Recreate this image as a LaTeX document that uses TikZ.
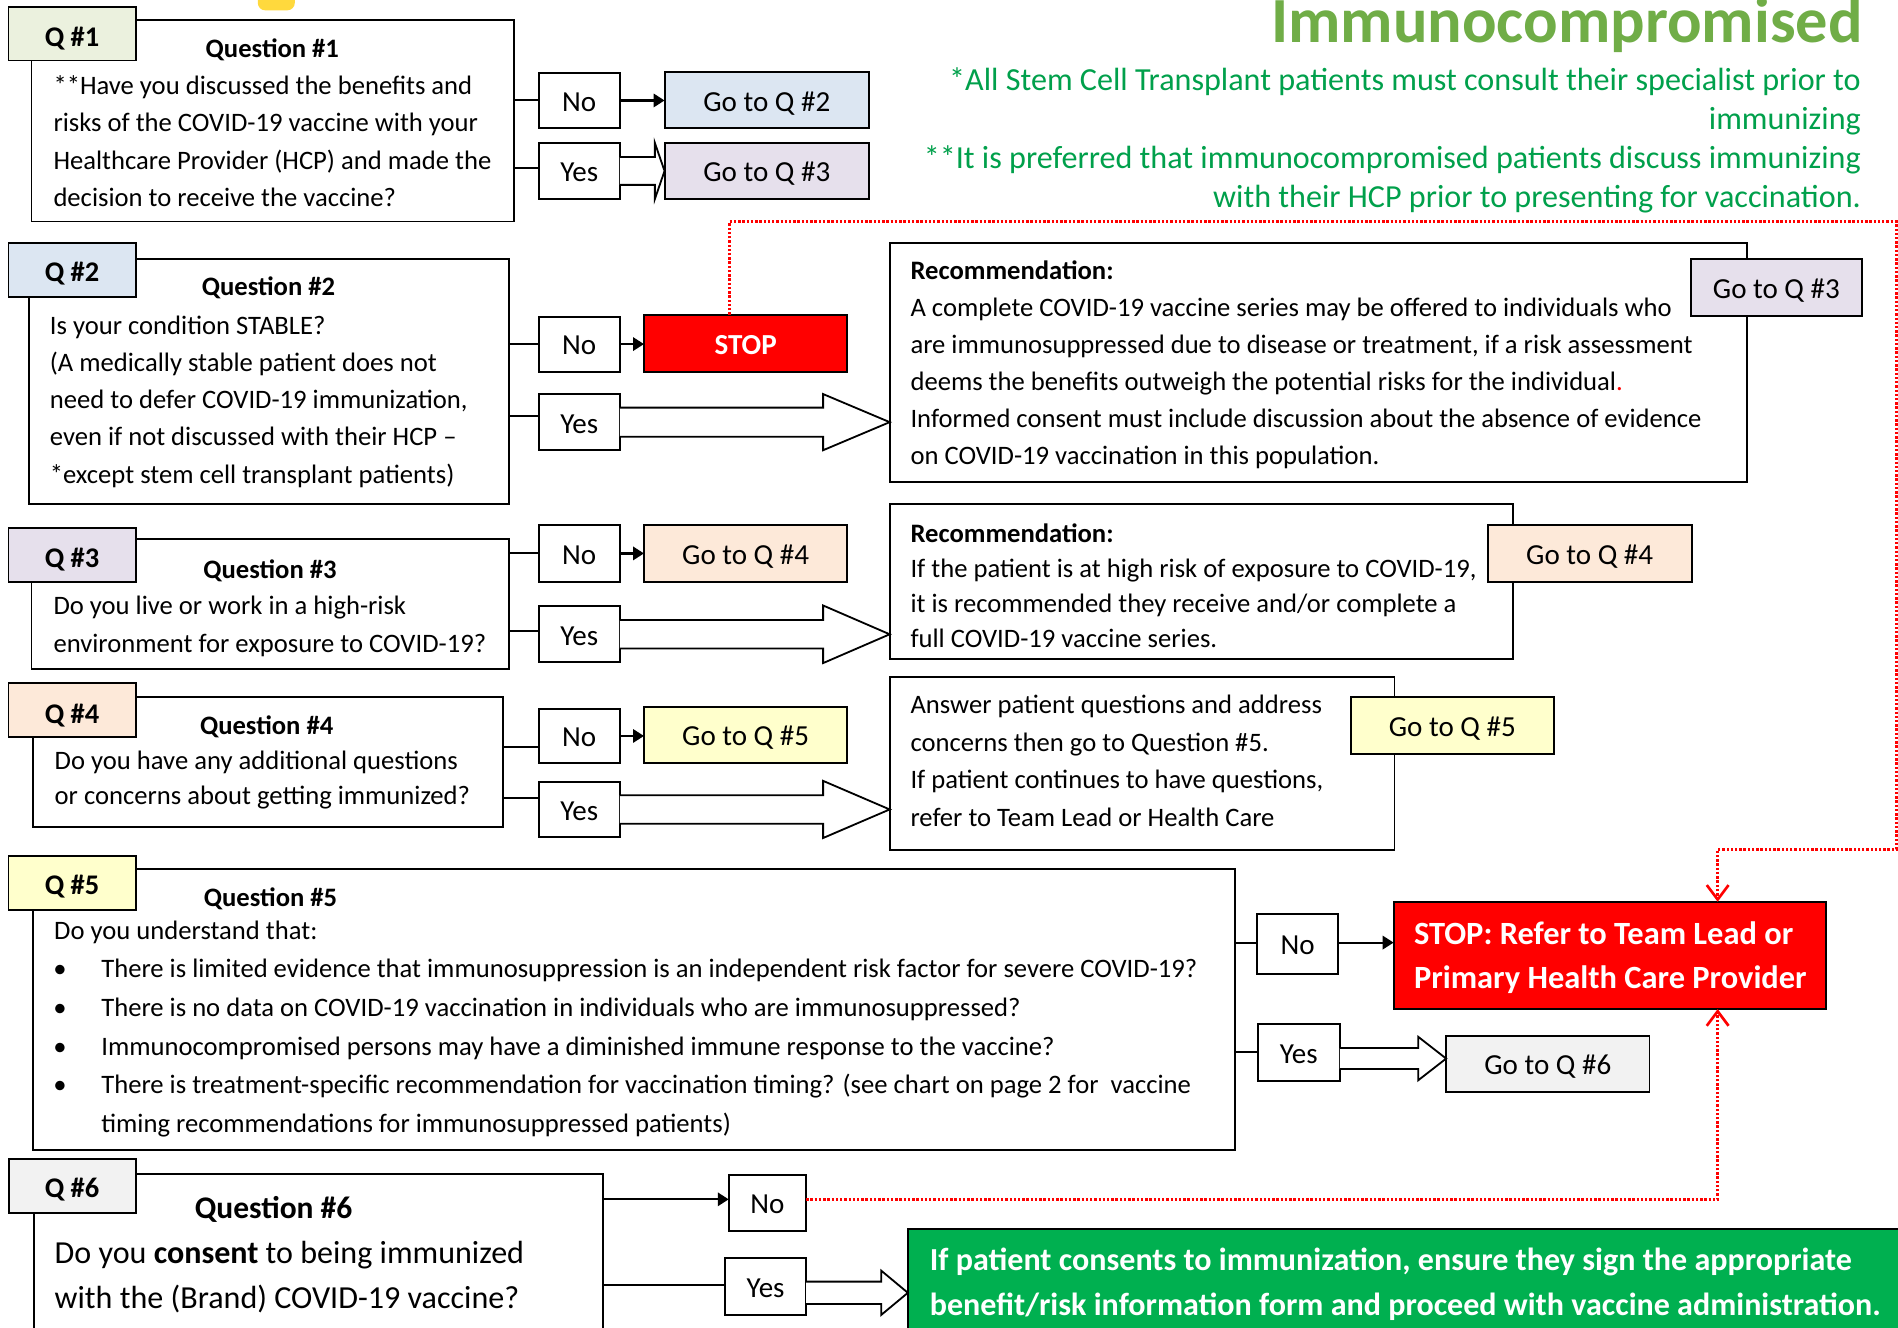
\documentclass[tikz,border=0pt]{standalone}
\usepackage{fontspec}
\setmainfont{Carlito}
\usetikzlibrary{arrows.meta,calc}
\definecolor{qone}{HTML}{EBF1DE}
\definecolor{qtwo}{HTML}{DCE6F2}
\definecolor{qthree}{HTML}{E6E0EC}
\definecolor{qfour}{HTML}{FDE9D9}
\definecolor{qfive}{HTML}{FFFFCC}
\definecolor{qsix}{HTML}{F2F2F2}
\definecolor{stopred}{HTML}{FF0000}
\definecolor{okgreen}{HTML}{00B050}
\definecolor{titlegreen}{HTML}{70AD47}
\definecolor{notegreen}{HTML}{00A04B}
\definecolor{tagyellow}{HTML}{FFD93D}
\newcommand{\BlockArrow}[5]{%
  \filldraw[blockarr] let \p1=(#1), \p2=(#2) in
  (\x1,{\y1+#3}) -- ({\x2-#5},{\y1+#3}) -- ({\x2-#5},{\y1+#4}) -- (\x2,\y1)
  -- ({\x2-#5},{\y1-#4}) -- ({\x2-#5},{\y1-#3}) -- (\x1,{\y1-#3});}
\begin{document}
\begin{tikzpicture}[x=1pt,y=-1pt,
  box/.style={draw=black,line width=1.6pt,fill=white,rectangle,inner sep=0pt,outer sep=0pt,anchor=north west},
  tagbox/.style={box,minimum width=105pt,minimum height=44.5pt},
  ynbox/.style={box,minimum width=67pt,minimum height=46pt,font=\fontsize{24}{28}\selectfont,text height=18pt,text depth=0pt},
  gobox/.style={box,minimum width=168pt,minimum height=47pt,font=\fontsize{24}{28}\selectfont,text height=18pt,text depth=0pt},
  tagtxt/.style={inner sep=0pt,anchor=base,font=\bfseries\fontsize{23.5}{28}\selectfont},
  qtitle/.style={inner sep=0pt,anchor=base,font=\bfseries\fontsize{22}{28}\selectfont},
  body/.style={inner sep=0pt,anchor=base west,align=left,font=\fontsize{22}{30.8}\selectfont},
  conn/.style={draw=black,line width=1.6pt},
  arr/.style={draw=black,line width=1.8pt,-{Triangle[length=9pt,width=11pt]}},
  blockarr/.style={draw=black,line width=1.5pt,fill=white,line join=miter},
  reddot/.style={draw=red,line width=2.6pt,dash pattern=on 2pt off 1.5pt,-{Straight Barb[length=12pt,width=18pt,line width=2.2pt]}},
]
\useasboundingbox (0,0) rectangle (1568,1097);
\clip (0,0) rectangle (1568,1097);
\fill[white] (0,0) rectangle (1568,1097);

% top yellow fragment
\fill[tagyellow,rounded corners=6pt] (213,-12) rectangle (243.5,8.5);

% header (multi-line nodes are placed by the baseline of their last line)
\node[inner sep=0pt,anchor=base east,font=\bfseries\fontsize{53.2}{60}\selectfont,text=titlegreen] (title) at (1539,35.5) {Immunocompromised};
\node[inner sep=0pt,anchor=base east,align=right,font=\fontsize{26.55}{32.3}\selectfont,text=notegreen] (notes) at (1537.5,171.5)
  {*All Stem Cell Transplant patients must consult their specialist prior to\\immunizing\\**It is preferred that immunocompromised patients discuss immunizing\\with their HCP prior to presenting for vaccination.};

% ---------- Q1 ----------
\node[box,minimum width=398.5pt,minimum height=166.5pt] (q1) at (26,16.5) {};
\node[tagbox,fill=qone] (tag1) at (7,5.5) {};
\node[tagtxt] (tq1) at (59.5,38.5) {Q \#1};
\node[qtitle] (h1) at (225,47.5) {Question \#1};
\node[body,font=\fontsize{22}{31}\selectfont] (b1) at (44,170.7) {**Have you discussed the benefits and\\risks of the COVID-19 vaccine with your\\Healthcare Provider (HCP) and made the\\decision to receive the vaccine?};
\node[ynbox] (no1) at (445,60) {No};
\node[ynbox,minimum height=46.5pt] (yes1) at (445,118) {Yes};
\node[gobox,minimum width=169pt,minimum height=46.5pt,fill=qtwo] (go2a) at (549,59.5) {Go to Q \#2};
\node[gobox,minimum width=169pt,minimum height=46.5pt,fill=qthree] (go3a) at (549,118) {Go to Q \#3};
\draw[conn] (no1.west -| q1.east) -- (no1.west);
\draw[conn] (yes1.west |- 0,139) -- (q1.east |- 0,139);
\draw[arr] (no1.east) -- (no1.east -| go2a.west);
\BlockArrow{yes1.east}{go3a.west}{11.5pt}{23.2pt}{8pt}

% ---------- Q2 ----------
\node[box,minimum width=396.5pt,minimum height=202pt] (q2) at (24,214) {};
\node[tagbox,fill=qtwo] (tag2) at (7,200.5) {};
\node[tagtxt] (tq2) at (59.5,232.5) {Q \#2};
\node[qtitle] (h2) at (221.8,244.5) {Question \#2};
\node[body] (b2) at (41,399.2) {Is your condition STABLE?\\(A medically stable patient does not\\need to defer COVID-19 immunization,\\even if not discussed with their HCP –\\*except stem cell transplant patients)};
\node[ynbox,minimum height=45.5pt] (no2) at (445,261.5) {No};
\node[ynbox,minimum height=46.5pt] (yes2) at (445,325.5) {Yes};
\node[gobox,fill=stopred,text=white,font=\bfseries\fontsize{24}{28}\selectfont] (stop) at (532,260) {STOP};
\node[box,minimum width=708pt,minimum height=197.5pt] (rec1) at (735,200.5) {};
\node[body,font=\fontsize{22}{30.5}\selectfont] (r1) at (752,383.5) {\textbf{Recommendation:}\\A complete COVID-19 vaccine series may be offered to individuals who\\are immunosuppressed due to disease or treatment, if a risk assessment\\deems the benefits outweigh the potential risks for the individual{\color{red}.}\\Informed consent must include discussion about the absence of evidence\\on COVID-19 vaccination in this population.};
\node[gobox,minimum width=141pt,fill=qthree] (go3b) at (1397,214) {Go to Q \#3};
\draw[conn] (no2.west -| q2.east) -- (no2.west);
\draw[conn] (yes2.west |- 0,344) -- (q2.east |- 0,344);
\draw[arr] (no2.east) -- (no2.east -| stop.west);
\BlockArrow{yes2.east}{rec1.west}{12pt}{23.2pt}{55pt}

% ---------- Q3 ----------
\node[box,minimum width=394.5pt,minimum height=108pt] (q3) at (26,445) {};
\node[tagbox,fill=qthree] (tag3) at (7,436) {};
\node[tagtxt] (tq3) at (59.5,468.5) {Q \#3};
\node[qtitle] (h3) at (223,477.8) {Question \#3};
\node[body,font=\fontsize{22}{31}\selectfont] (b3) at (44,539) {Do you live or work in a high-risk\\environment for exposure to COVID-19?};
\node[ynbox,minimum height=47pt] (no3) at (445,433.7) {No};
\node[ynbox] (yes3) at (445,501) {Yes};
\node[gobox,fill=qfour] (go4a) at (532,433.7) {Go to Q \#4};
\node[box,minimum width=514.6pt,minimum height=128.3pt] (rec2) at (735,416.4) {};
\node[body,font=\fontsize{22}{28.9}\selectfont] (r2) at (752,534.7) {\textbf{Recommendation:}\\If the patient is at high risk of exposure to COVID-19,\\it is recommended they receive and/or complete a\\full COVID-19 vaccine series.};
\node[gobox,minimum width=168.5pt,fill=qfour] (go4b) at (1229,433.7) {Go to Q \#4};
\draw[conn] (no3.west -| q3.east) -- (no3.west);
\draw[conn] (yes3.west |- 0,521.5) -- (q3.east |- 0,521.5);
\draw[arr] (no3.east) -- (no3.east -| go4a.west);
\BlockArrow{yes3.east}{rec2.west}{11.8pt}{23.8pt}{55pt}

% ---------- Q4 ----------
\node[box,minimum width=388pt,minimum height=107pt] (q4) at (27.5,576) {};
\node[tagbox,fill=qfour] (tag4) at (7,564) {};
\node[tagtxt] (tq4) at (59.5,597.5) {Q \#4};
\node[qtitle] (h4) at (220.3,607) {Question \#4};
\node[body,font=\fontsize{22}{29}\selectfont] (b4) at (45,664.7) {Do you have any additional questions\\or concerns about getting immunized?};
\node[ynbox,minimum height=45.2pt] (no4) at (445,585.4) {No};
\node[ynbox] (yes4) at (445,645.7) {Yes};
\node[gobox,minimum height=46.8pt,fill=qfive] (go5a) at (532,583.8) {Go to Q \#5};
\node[box,minimum width=417pt,minimum height=143.2pt] (rec3) at (735,559) {};
\node[body,font=\fontsize{22}{31}\selectfont] (r3) at (752,682.7) {Answer patient questions and address\\concerns then go to Question \#5.\\If patient continues to have questions,\\refer to Team Lead or Health Care};
\node[gobox,minimum width=168pt,fill=qfive] (go5b) at (1115.8,576) {Go to Q \#5};
\draw[conn] (no4.west |- 0,617) -- (q4.east |- 0,617);
\draw[conn] (yes4.west |- 0,659.5) -- (q4.east |- 0,659.5);
\draw[arr] (no4.east) -- (no4.east -| go5a.west);
\BlockArrow{yes4.east}{rec3.west}{11.8pt}{23.6pt}{55pt}

% ---------- Q5 ----------
\node[box,minimum width=993pt,minimum height=232pt] (q5) at (27.5,718) {};
\node[tagbox,minimum height=45pt,fill=qfive] (tag5) at (7,707) {};
\node[tagtxt] (tq5) at (59.5,739) {Q \#5};
\node[qtitle] (h5) at (223.5,748.8) {Question \#5};
\node[body] (b5a) at (44.6,776) {Do you understand that:};
\node[inner sep=0pt,anchor=base,align=center,font=\fontsize{22}{31.9}\selectfont] (bul) at (49.5,903.6) {•\\•\\•\\•};
\node[body,font=\fontsize{22}{31.9}\selectfont] (b5b) at (83.5,935.5) {There is limited evidence that immunosuppression is an independent risk factor for severe COVID-19?\\There is no data on COVID-19 vaccination in individuals who are immunosuppressed?\\Immunocompromised persons may have a diminished immune response to the vaccine?\\There is treatment-specific recommendation for vaccination timing? (see chart on page 2 for~ vaccine\\timing recommendations for immunosuppressed patients)};
\node[ynbox,minimum height=49.5pt] (no5) at (1038.5,755) {No};
\node[ynbox,minimum width=68pt,minimum height=47pt] (yes5) at (1039,846) {Yes};
\node[box,minimum width=357.5pt,minimum height=88.6pt,fill=stopred] (stop2) at (1151.3,745) {};
\node[inner sep=0pt,anchor=base west,align=left,text=white,font=\bfseries\fontsize{26.8}{37}\selectfont] (s2t) at (1168,817) {STOP: Refer to Team Lead or\\Primary Health Care Provider};
\node[gobox,minimum height=46pt,fill=qsix] (go6) at (1194.7,855.8) {Go to Q \#6};
\draw[conn] (no5.west |- 0,778.7) -- (q5.east |- 0,778.7);
\draw[conn] (yes5.west |- 0,869.3) -- (q5.east |- 0,869.3);
\draw[arr] (no5.east |- 0,778.7) -- (stop2.west |- 0,778.7);
\BlockArrow{yes5.east |- 0,874.5}{go6.west}{8.7pt}{17.9pt}{23pt}

% ---------- Q6 ----------
\node[box,minimum width=470pt,minimum height=140pt] (q6) at (28,970) {};
\node[tagbox,minimum width=104.5pt,fill=qsix] (tag6) at (7.5,957.7) {};
\node[tagtxt] (tq6) at (59.5,989.5) {Q \#6};
\node[qtitle,font=\bfseries\fontsize{26}{30}\selectfont] (h6) at (226,1006.5) {Question \#6};
\node[body,font=\fontsize{26.5}{37}\selectfont] (b6) at (45,1081) {Do you \textbf{consent} to being immunized\\with the (Brand) COVID-19 vaccine?};
\node[ynbox,minimum width=64pt] (no6) at (602,970.7) {No};
\node[ynbox,minimum height=46.8pt] (yes6) at (599,1039.5) {Yes};
\node[box,minimum width=830pt,minimum height=100pt,fill=okgreen] (ok) at (750,1015.6) {};
\node[inner sep=0pt,anchor=base west,align=left,text=white,font=\bfseries\fontsize{26.5}{37}\selectfont] (okt) at (768,1087) {If patient consents to immunization, ensure they sign the appropriate\\benefit/risk information form and proceed with vaccine administration.};
\draw[arr] (q6.east |- 0,990.8) -- (no6.west |- 0,990.8);
\draw[conn] (yes6.west |- 0,1061.6) -- (q6.east |- 0,1061.6);
\BlockArrow{yes6.east |- 0,1068}{ok.west}{9.2pt}{18.3pt}{22pt}

% ---------- red dotted referrals ----------
\coordinate (rA) at (602.8,183);
\coordinate (rB) at (1566.5,183);
\coordinate (rC) at (1566.5,701.6);
\coordinate (rD) at (1419,701.6);
\draw[reddot] (stop.north -| rA) -- (rA) -- (rB) -- (rC) -- (rD) -- (rD |- stop2.north);
\draw[reddot] (no6.east |- 0,990.8) -| (rD |- stop2.south);
\end{tikzpicture}
\end{document}
